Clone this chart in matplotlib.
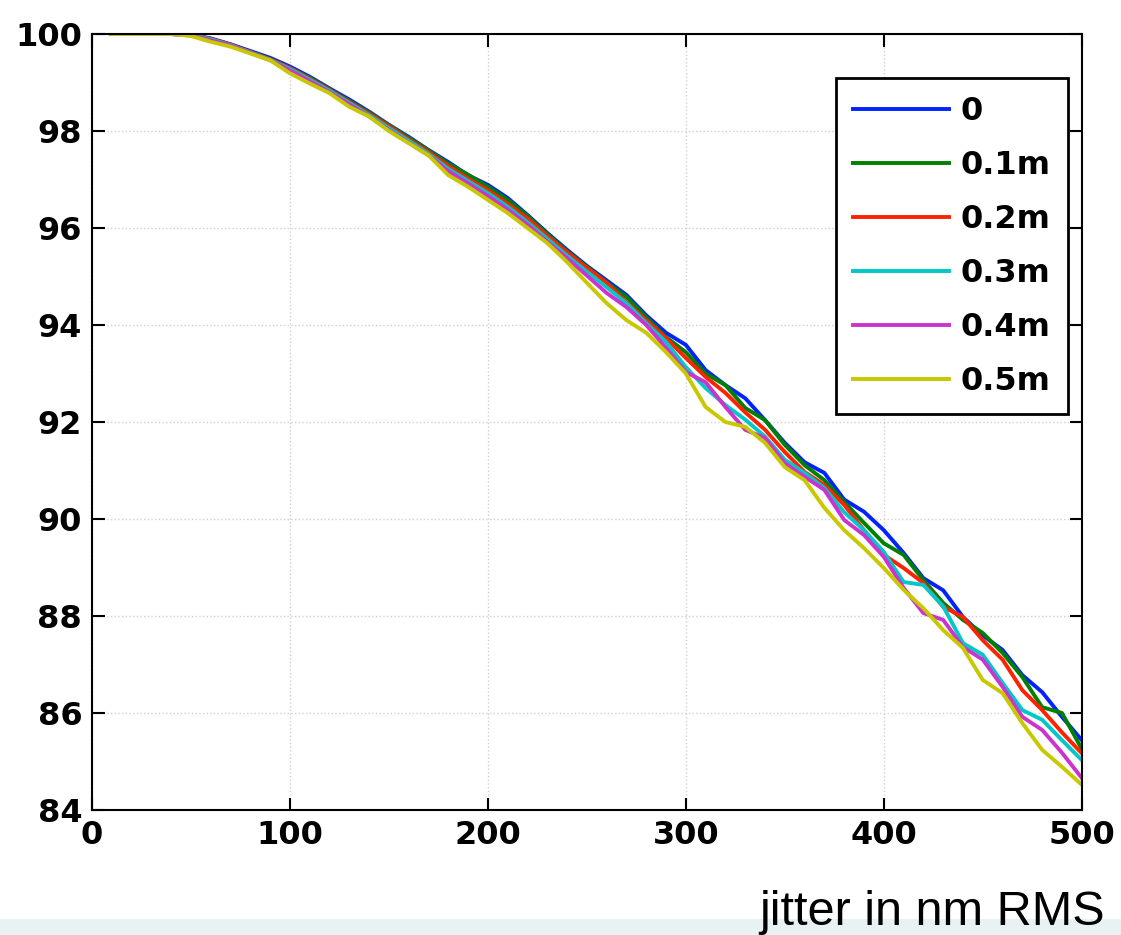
import numpy as np
import matplotlib
matplotlib.use("Agg")
import matplotlib.pyplot as plt
from matplotlib.patches import Rectangle

# jitter values (nm RMS)
jitter = list(range(10, 510, 10))

labels = ["0", "0.1m", "0.2m", "0.3m", "0.4m", "0.5m"]
colors = ["#0022ff", "#008000", "#ff2200", "#00c8c8", "#cc33cc", "#c8c800"]

s0 = [100, 100, 100, 100, 99.99, 99.91, 99.79, 99.65, 99.51, 99.33, 99.12, 98.88, 98.65, 98.4,
      98.13, 97.88, 97.61, 97.36, 97.09, 96.89, 96.62, 96.27, 95.9, 95.55,
      95.22, 94.92, 94.62, 94.2, 93.84, 93.59, 93.07, 92.76, 92.49, 92.04,
      91.57, 91.17, 90.95, 90.4, 90.15, 89.77, 89.3, 88.78, 88.53, 87.98,
      87.6, 87.3, 86.78, 86.43, 85.92, 85.44]
s1 = [100, 100, 100, 100, 99.99, 99.9, 99.78, 99.63, 99.49, 99.3, 99.1, 98.86, 98.62, 98.38,
      98.12, 97.86, 97.6, 97.33, 97.1, 96.85, 96.58, 96.25, 95.88, 95.52,
      95.2, 94.88, 94.58, 94.16, 93.75, 93.44, 93.0, 92.76, 92.29, 92.04,
      91.53, 91.11, 90.8, 90.35, 89.92, 89.5, 89.26, 88.74, 88.27, 87.92,
      87.65, 87.24, 86.74, 86.12, 86.0, 85.26]
s2 = [100, 100, 100, 100, 99.99, 99.9, 99.78, 99.63, 99.48, 99.3, 99.08, 98.85, 98.6, 98.36,
      98.1, 97.83, 97.57, 97.28, 97.02, 96.78, 96.5, 96.2, 95.84, 95.5,
      95.18, 94.87, 94.47, 94.1, 93.73, 93.32, 92.93, 92.6, 92.2, 91.84,
      91.38, 90.97, 90.7, 90.29, 89.77, 89.26, 88.99, 88.68, 88.19, 87.98,
      87.5, 87.1, 86.47, 86.06, 85.6, 85.17]
s3 = [100, 100, 100, 100, 99.98, 99.89, 99.77, 99.62, 99.47, 99.28, 99.06, 98.83, 98.58, 98.33,
      98.06, 97.8, 97.53, 97.22, 96.97, 96.72, 96.44, 96.12, 95.78, 95.43,
      95.1, 94.78, 94.45, 94.04, 93.65, 93.13, 92.7, 92.35, 92.05, 91.7,
      91.22, 90.95, 90.64, 90.14, 89.77, 89.32, 88.7, 88.64, 88.2, 87.44,
      87.2, 86.62, 86.06, 85.86, 85.44, 85.03]
s4 = [100, 100, 100, 100, 99.97, 99.87, 99.76, 99.61, 99.46, 99.25, 99.03, 98.8, 98.55, 98.3,
      98.02, 97.76, 97.5, 97.17, 96.92, 96.66, 96.38, 96.07, 95.72, 95.38,
      95.02, 94.66, 94.37, 94.0, 93.53, 93.03, 92.82, 92.31, 91.84, 91.67,
      91.15, 90.87, 90.6, 89.98, 89.67, 89.22, 88.58, 88.06, 87.92, 87.36,
      87.1, 86.54, 85.92, 85.65, 85.18, 84.66]
s5 = [100, 100, 100, 100, 99.96, 99.84, 99.74, 99.6, 99.46, 99.19, 98.98, 98.78, 98.5, 98.3,
      98.0, 97.75, 97.5, 97.09, 96.85, 96.58, 96.31, 96.0, 95.69, 95.3,
      94.87, 94.45, 94.1, 93.84, 93.44, 93.0, 92.31, 92.0, 91.9, 91.57,
      91.07, 90.8, 90.23, 89.77, 89.4, 88.99, 88.54, 88.16, 87.71, 87.34,
      86.68, 86.41, 85.79, 85.24, 84.89, 84.52]
series = [s0, s1, s2, s3, s4, s5]

plt.rcParams['font.family'] = ['DejaVu Sans']

fig = plt.figure(figsize=(11.21, 9.35), dpi=100)
# light band at the bottom of the picture
fig.patches.append(Rectangle((0, 0), 1, 0.017, transform=fig.transFigure,
                             facecolor="#e8f2f2", edgecolor="none", zorder=0))
ax = fig.add_axes([0.082, 0.1337, 0.883, 0.8299])

for s, c, lab in zip(series, colors, labels):
    ax.plot(jitter, s, color=c, lw=2.8, label=lab)

ax.set_xlim(0, 500)
ax.set_ylim(84, 100)
ax.set_xticks(range(0, 501, 100))
ax.set_yticks(range(84, 101, 2))
ax.grid(True, linestyle=":", color="#d0d0d0", lw=1)
ax.tick_params(direction="in", length=9, width=1.5, top=True, right=True,
               labelsize=23, pad=7)
for t in ax.get_xticklabels() + ax.get_yticklabels():
    t.set_fontweight("bold")
for sp in ax.spines.values():
    sp.set_linewidth(1.5)

leg = ax.legend(loc="upper right", bbox_to_anchor=(0.986, 0.943), borderaxespad=0,
                fancybox=False, edgecolor="black", framealpha=1,
                prop={"weight": "bold", "size": 23}, handlelength=3.0,
                handletextpad=0.35, labelspacing=0.72, borderpad=0.55)
leg.get_frame().set_linewidth(2)

fig.text(0.986, 0.0107, "jitter in nm RMS", ha="right", va="baseline", fontsize=35,
         family="Liberation Sans")

fig.savefig("out.png", dpi=100)
